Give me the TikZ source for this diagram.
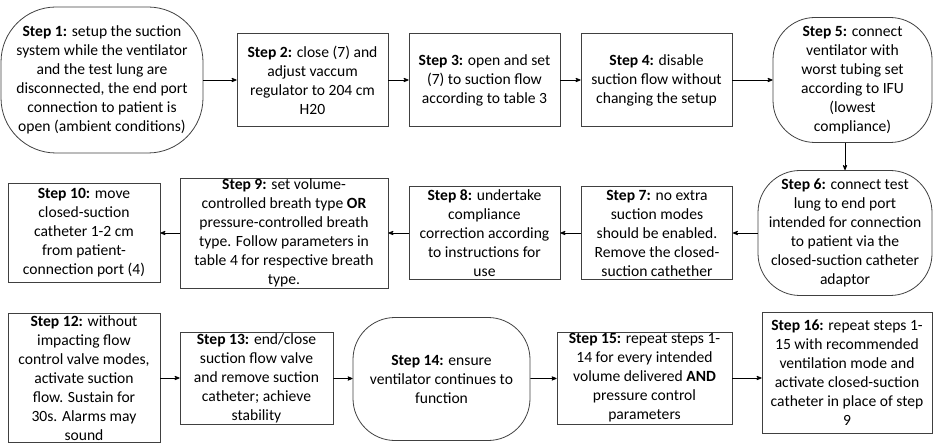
\documentclass[tikz,border=0pt]{standalone}
\usepackage{fontspec}
\setmainfont{Carlito}
\usetikzlibrary{arrows, positioning}

\begin{document}
\begin{tikzpicture}[->,>=stealth',x=1pt,y=-1pt,line width=0.8pt,
    font=\fontsize{15.6}{19}\selectfont,
    step box/.style={rectangle,draw=black!75,align=center,inner sep=0pt,minimum width=151pt,minimum height=93pt},
    round box/.style={step box,rounded corners=42pt}]

\useasboundingbox (0,0) rectangle (933,443);

% first row
\node[round box,minimum width=202pt,minimum height=146pt,rounded corners=55pt] (s1) at (102,80) {\textbf{Step 1:} setup the suction\\system while the ventilator\\and the test lung are\\disconnected, the end port\\connection to patient is\\open (ambient conditions)};
\node[step box] (s2) at (312.5,80) {\textbf{Step 2:} close (7) and\\adjust vaccum\\regulator to 204 cm\\H20};
\node[step box] (s3) at (484.5,80) {\textbf{Step 3:} open and set\\(7) to suction flow\\according to table 3};
\node[step box] (s4) at (656.5,80) {\textbf{Step 4:} disable\\suction flow without\\changing the setup};
\node[round box,minimum width=159pt,minimum height=125pt] (s5) at (852.5,80) {\textbf{Step 5:} connect\\ventilator with\\worst tubing set\\according to IFU\\(lowest\\compliance)};

% second row
\node[round box,minimum width=174pt,minimum height=125pt] (s6) at (845,233) {\textbf{Step 6:} connect test\\lung to end port\\intended for connection\\to patient via the\\closed-suction catheter\\adaptor};
\node[step box] (s7) at (657,233) {\textbf{Step 7:} no extra\\suction modes\\should be enabled.\\Remove the closed-\\suction cathether};
\node[step box] (s8) at (484.5,233) {\textbf{Step 8:} undertake\\compliance\\correction according\\to instructions for\\use};
\node[step box,minimum width=208pt,minimum height=110pt] (s9) at (284,233) {\textbf{Step 9:} set volume-\\controlled breath type \textbf{OR}\\pressure-controlled breath\\type. Follow parameters in\\table 4 for respective breath\\type.};
\node[step box,minimum width=152pt,minimum height=99pt] (s10) at (84,233) {\textbf{Step 10:} move\\closed-suction\\catheter 1-2 cm\\from patient-\\connection port (4)};

% third row
\node[step box,minimum width=152pt,minimum height=129pt] (s12) at (84,378) {\textbf{Step 12:} without\\impacting flow\\control valve modes,\\activate suction\\flow. Sustain for\\30s. Alarms may\\sound};
\node[step box,minimum width=153pt,minimum height=92pt] (s13) at (256.5,378) {\textbf{Step 13:} end/close\\suction flow valve\\and remove suction\\catheter; achieve\\stability};
\node[round box,minimum width=177pt,minimum height=123pt] (s14) at (441.5,379) {\textbf{Step 14:} ensure\\ventilator continues to\\function};
\node[step box,minimum width=175pt,minimum height=92pt] (s15) at (644.5,378) {\textbf{Step 15:} repeat steps 1-\\14 for every intended\\volume delivered \textbf{AND}\\pressure control\\parameters};
\node[step box,minimum width=170pt,minimum height=121pt] (s16) at (847,372.5) {\textbf{Step 16:} repeat steps 1-\\15 with recommended\\ventilation mode and\\activate closed-suction\\catheter in place of step\\9};

\path
(s1) edge (s2)
(s2) edge (s3)
(s3) edge (s4)
(s4) edge (s5)
(s6) edge (s7)
(s7) edge (s8)
(s8) edge (s9)
(s9) edge (s10)
(s12) edge (s13)
(s13) edge (s14)
(s14) edge (s15);
\draw (s6.north |- s5.south) -- (s6.north);
\draw (s15) -- (s15 -| s16.west);
\end{tikzpicture}
\end{document}
